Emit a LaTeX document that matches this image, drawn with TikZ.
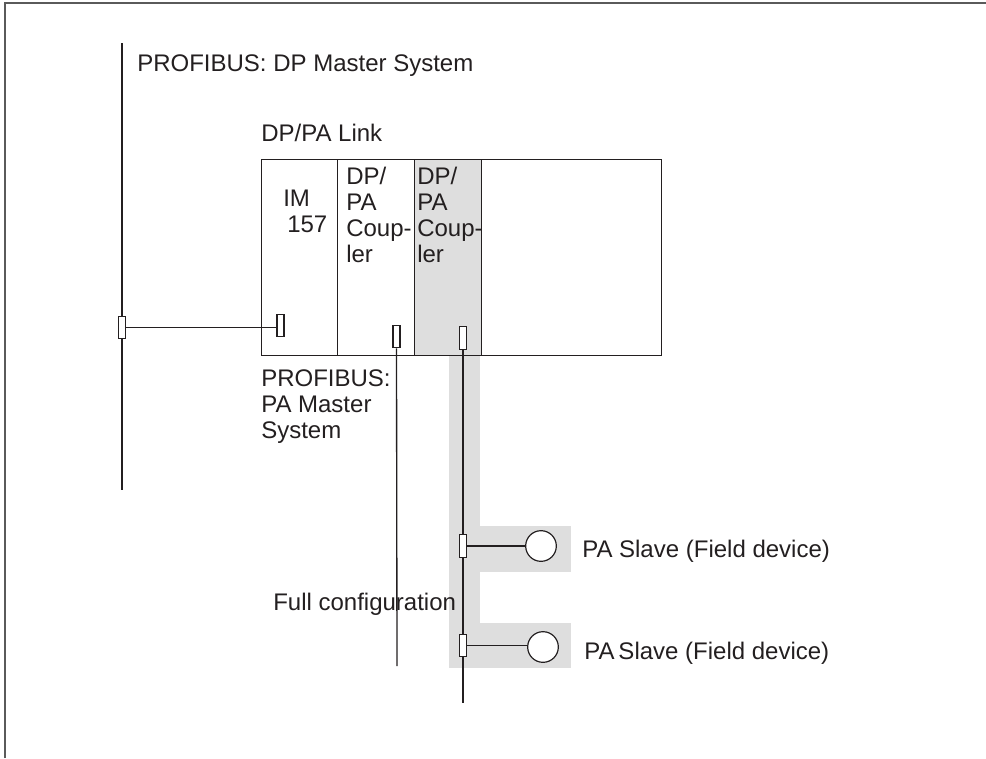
\documentclass[tikz,border=0pt]{standalone}
\usepackage{fontspec}
\setmainfont{Liberation Sans}
\definecolor{ln}{RGB}{35,31,32}
\definecolor{band}{RGB}{222,222,222}
\definecolor{frm}{RGB}{90,90,90}
\tikzset{
  lbl/.style={inner sep=0pt, anchor=base west, text=ln, font=\fontsize{18}{19.5}\selectfont, align=left},
  modbox/.style={draw=ln, line width=1pt, inner sep=0pt, anchor=north west},
  conn/.style={draw=ln, fill=white, line width=0.9pt, inner sep=0pt, minimum width=5.25pt, minimum height=17pt},
  dev/.style={circle, draw=ln, fill=white, line width=0.9pt, inner sep=0pt, minimum size=23pt},
  wire/.style={draw=ln, line width=1pt},
}
\begin{document}
\begin{tikzpicture}[x=0.75pt,y=-0.75pt]
\useasboundingbox (0,0) rectangle (986,758);
% frame
\draw[frm, line width=1.3pt] (5,758) -- (5,3) -- (986,3);
% gray bands
\fill[band] (449,355) rectangle (480,668);
\fill[band] (449,526) rectangle (571,572);
\fill[band] (449,623) rectangle (571,668);
% DP/PA link modules
\node[modbox, minimum width=57pt, minimum height=147pt] (im) at (261,159) {};
\node[modbox, minimum width=57.75pt, minimum height=147pt] (cp1) at (337,159) {};
\node[modbox, fill=band, minimum width=50.25pt, minimum height=147pt] (cp2) at (414,159) {};
\node[modbox, minimum width=135pt, minimum height=147pt] (rest) at (481,159) {};
% texts
\node[lbl] (tdp) at (137,71) {PROFIBUS: DP Master System};
\node[lbl] (tlink) at (261,141) {DP/PA Link};
\node[lbl] (tim) at (283,232) {IM\\\,157};
\node[lbl] (tcp1) at (346,262) {DP/\\PA\\Coup-\\ler};
\node[lbl] (tcp2) at (417,262) {DP/\\PA\\Coup-\\ler};
\node[lbl] (tpa) at (261,438) {PROFIBUS:\\PA Master\\System};
\node[lbl] (tfull) at (273,610) {Full configuration};
\node[lbl] (ts1) at (582,557) {PA Slave (Field device)};
\node[lbl] (ts2) at (584,659) {PA\,Slave (Field device)};
% buses
\coordinate (dpTop) at (122,43);
\coordinate (dpBot) at (122,490);
\coordinate (pa1Bot) at (397,666);
\coordinate (pa2Bot) at (463,703);
\draw[wire] (dpTop) -- (dpBot);
\node[conn] (cdp) at (122,327.5) {};
\node[conn] (cim) at (280.5,325.5) {};
\draw[wire] (cdp.east) -- (cdp.east -| cim.west);
\node[conn] (ccp1) at (396.5,336.5) {};
\node[conn] (ccp2) at (463,338) {};
\draw[wire] (ccp1.south) -- (pa1Bot);
\draw[wire] (ccp2.south) -- (pa2Bot);
\node[conn] (cs1) at (463,546) {};
\node[conn] (cs2) at (463,645.5) {};
\node[dev] (d1) at (541,546) {};
\node[dev] (d2) at (543,647) {};
\draw[wire] (cs1.east) -- (d1.west);
\draw[wire] (cs2.east) -- (cs2.east -| d2.west);
\end{tikzpicture}
\end{document}
